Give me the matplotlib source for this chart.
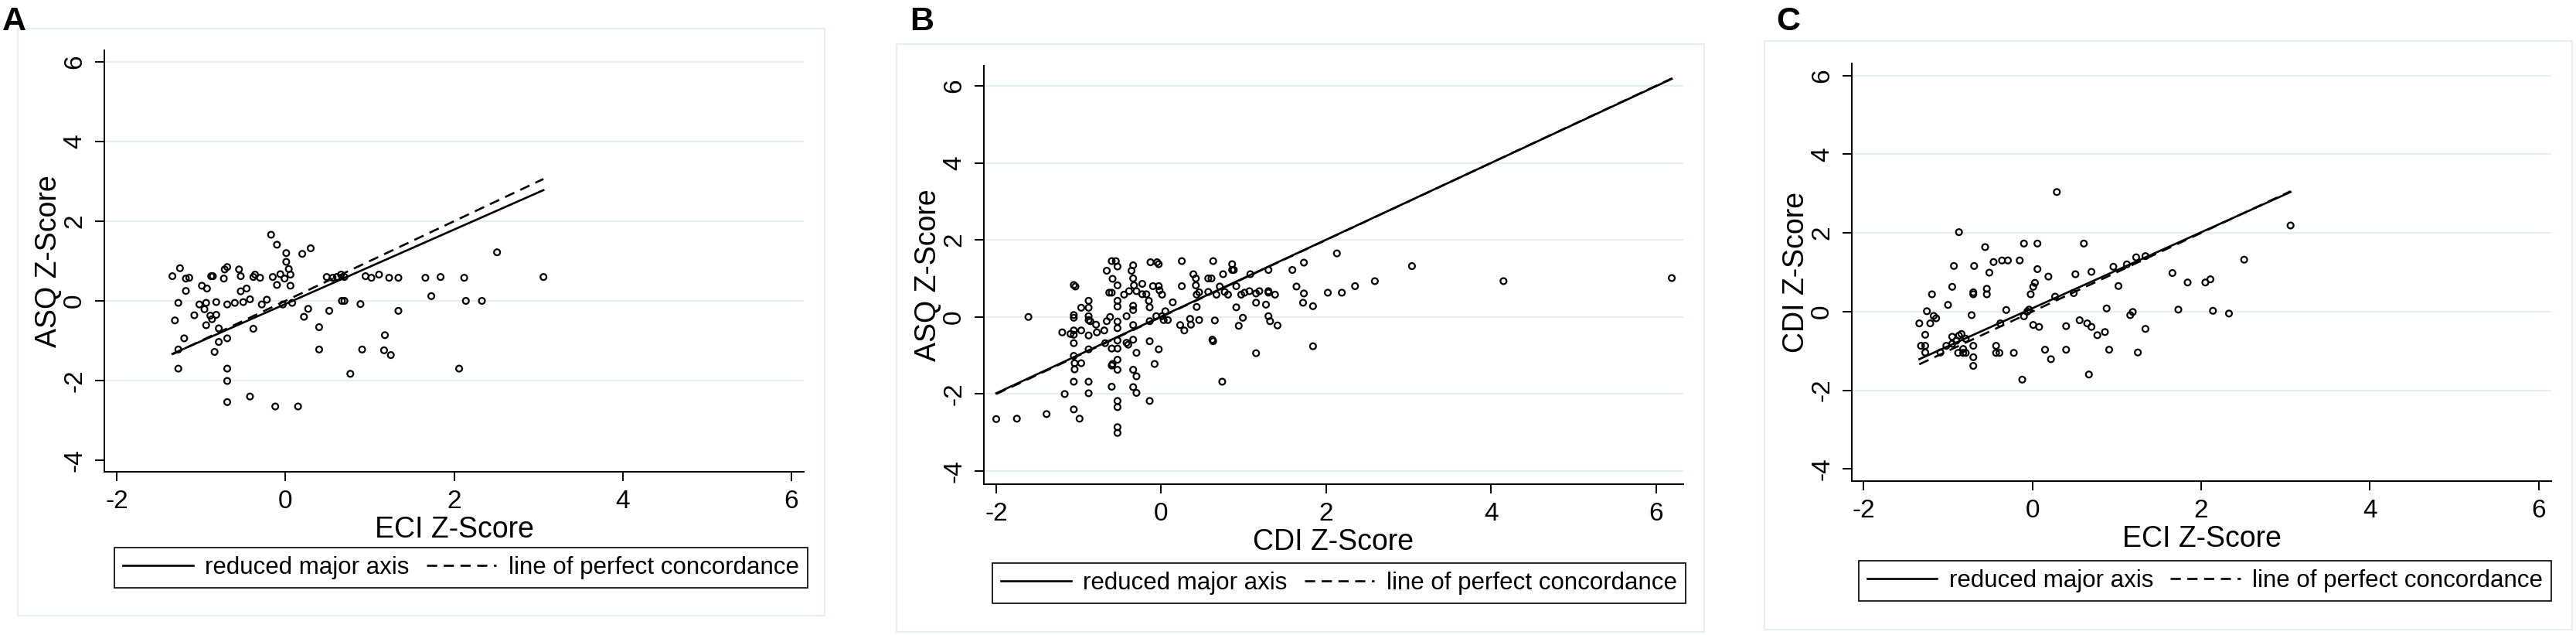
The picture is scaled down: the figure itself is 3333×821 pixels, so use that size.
import matplotlib
matplotlib.use("Agg")
import matplotlib.pyplot as plt
from matplotlib.lines import Line2D
from matplotlib.patches import Rectangle

plt.rcParams['font.family'] = ['Liberation Sans', 'DejaVu Sans']
plt.rcParams['axes.unicode_minus'] = False

# ---- data ----
# panel A: ECI z-score vs ASQ z-score
eci_a = [-1.34, -1.25, -1.18, -1.14, -1.18, -1.27, -1.31, -1.20, -1.27, -1.27,
         -1.08, -1.02, -0.99, -0.93, -0.94, -0.96, -0.94, -0.88, -0.86, -0.89,
         -0.87, -0.82, -0.82, -0.79, -0.79, -0.84, -0.73, -0.72, -0.69, -0.69,
         -0.69, -0.69, -0.69, -0.69, -0.60, -0.55, -0.53, -0.53, -0.50, -0.46,
         -0.42, -0.42, -0.38, -0.36, -0.38, -0.30, -0.28, -0.22, -0.17, -0.15,
         -0.10, -0.10, -0.12, -0.06, -0.03, -0.01, 0.01, 0.01, 0.04, 0.06,
         0.06, 0.08, 0.15, 0.20, 0.30, 0.22, 0.27, 0.40, 0.40, 0.49,
         0.52, 0.56, 0.61, 0.66, 0.70, 0.67, 0.70, 0.77, 0.89, 0.91,
         0.95, 1.02, 1.11, 1.17, 1.18, 1.23, 1.25, 1.34, 1.34, 1.66,
         1.73, 1.84, 2.06, 2.12, 2.14, 2.33, 2.51, 3.06]
asq_a = [0.62, 0.82, 0.56, 0.58, 0.25, -0.05, -0.49, -0.94, -1.22, -1.70,
         -0.36, -0.09, 0.38, 0.31, -0.05, -0.21, -0.61, 0.62, 0.62, -0.37,
         -0.46, -0.35, -0.03, -0.69, -1.03, -1.28, 0.56, 0.79, 0.85, -0.09,
         -0.94, -1.70, -2.01, -2.54, -0.05, 0.79, 0.62, 0.24, -0.03, 0.31,
         0.04, -2.40, 0.60, 0.66, -0.70, 0.58, -0.09, 0.03, 1.66, 0.60,
         1.41, 0.40, -2.65, 0.67, -0.09, 0.56, 1.20, 0.98, 0.80, 0.66,
         0.38, -0.05, -2.65, 1.18, 1.32, -0.40, -0.20, -0.66, -1.22, 0.60,
         -0.25, 0.58, 0.60, 0.66, 0.60, 0.00, 0.00, -1.83, -0.08, -1.22,
         0.62, 0.58, 0.66, -1.24, -0.86, 0.58, -1.36, 0.58, -0.25, 0.58,
         0.12, 0.60, -1.70, 0.58, 0.00, 0.00, 1.22, 0.60]
rma_a_x = [-1.34, 3.06]
rma_a_y = [-1.33, 2.78]
conc_a = [-1.34, 3.06]

# panel B: CDI z-score vs ASQ z-score
cdi_b = [-2.00, -1.75, -1.61, -1.39, -1.20, -1.17, -1.10, -1.06, -1.04, -1.06,
         -1.06, -1.06, -1.06, -1.06, -1.06, -1.05, -1.05, -1.06, -1.06, -0.99,
         -0.97, -0.97, -0.97, -0.88, -0.88, -0.88, -0.88, -0.86, -0.88, -0.88,
         -0.88, -0.88, -0.79, -0.78, -0.69, -0.68, -0.66, -0.63, -0.62, -0.66,
         -0.60, -0.59, -0.60, -0.60, -0.59, -0.60, -0.60, -0.55, -0.53, -0.53,
         -0.53, -0.53, -0.53, -0.53, -0.53, -0.53, -0.53, -0.53, -0.53, -0.53,
         -0.53, -0.53, -0.45, -0.42, -0.42, -0.39, -0.40, -0.36, -0.34, -0.34,
         -0.33, -0.34, -0.34, -0.34, -0.34, -0.34, -0.30, -0.34, -0.30, -0.30,
         -0.30, -0.23, -0.23, -0.18, -0.15, -0.14, -0.14, -0.13, -0.14, -0.14,
         -0.10, -0.08, -0.06, -0.05, -0.03, -0.03, -0.02, -0.03, 0.01, 0.01,
         0.03, 0.05, 0.08, 0.14, 0.23, 0.25, 0.25, 0.28, 0.35, 0.36,
         0.39, 0.42, 0.42, 0.43, 0.43, 0.46, 0.46, 0.57, 0.61, 0.57,
         0.63, 0.65, 0.62, 0.63, 0.67, 0.71, 0.74, 0.75, 0.77, 0.81,
         0.86, 0.86, 0.88, 0.91, 0.91, 0.94, 0.97, 0.99, 1.01, 1.08,
         1.07, 1.15, 1.15, 1.15, 1.19, 1.27, 1.30, 1.30, 1.30, 1.30,
         1.32, 1.38, 1.41, 1.59, 1.64, 1.73, 1.73, 1.72, 1.84, 1.84,
         2.02, 2.13, 2.19, 2.35, 2.59, 3.04, 4.15, 6.19]
asq_b = [-2.65, -2.64, 0.00, -2.52, -0.40, -2.00, -0.44, 0.83, 0.79, 0.05,
         -0.02, -0.35, -0.46, -0.68, -1.01, -1.20, -1.36, -1.68, -2.40, -2.64,
         0.24, -0.35, -1.20, 0.42, 0.24, 0.02, -0.08, -0.11, -0.48, -0.84,
         -1.68, -1.98, -0.20, -0.40, -0.35, -0.68, 1.20, 0.63, 0.00, -0.11,
         1.45, 0.99, 0.63, -0.82, -1.22, -1.81, -1.26, 1.45, 1.31, 0.82,
         0.42, 0.27, -0.12, -0.29, -0.61, -0.82, -1.11, -1.37, -2.18, -2.34,
         -2.86, -3.01, 0.58, 0.02, -0.67, 0.67, -0.72, 1.20, 1.34, 1.00,
         0.82, 0.29, 0.18, -0.21, -0.59, -1.37, -1.54, -1.82, -1.97, 0.67,
         -0.93, 0.86, 0.59, 0.59, 0.42, 0.25, -0.11, 1.42, -0.63, -2.18,
         0.80, -1.22, 0.02, 1.42, 1.37, 0.80, 0.69, -0.84, 0.58, 0.02,
         -0.08, 0.15, -0.08, 0.38, -0.21, 1.45, 0.80, -0.35, -0.05, -0.20,
         1.11, 1.00, 0.82, 0.58, 0.26, 0.64, -0.08, 1.00, 1.00, 0.65,
         1.45, -0.09, -0.59, -0.63, 0.58, 0.79, -1.68, 1.11, 0.65, 0.58,
         1.37, 1.22, 1.22, 0.80, 0.25, -0.23, 0.58, -0.02, 0.63, 1.11,
         0.67, 0.37, -0.94, 0.61, 0.67, 0.32, 0.67, 0.63, 1.22, 0.02,
         -0.11, 0.58, -0.22, 1.22, 0.79, 1.41, 0.61, 0.37, 0.28, -0.76,
         0.63, 1.65, 0.63, 0.80, 0.93, 1.32, 0.93, 1.01]
rma_b_x = [-2.00, 6.19]
rma_b_y = [-1.98, 6.18]
conc_b = [-2.00, 6.19]

# panel C: ECI z-score vs CDI z-score
eci_c = [-1.34, -1.32, -1.27, -1.27, -1.27, -1.25, -1.21, -1.19, -1.17, -1.14,
         -1.09, -1.02, -1.00, -0.95, -0.95, -0.95, -0.93, -0.90, -0.87, -0.87,
         -0.88, -0.84, -0.82, -0.82, -0.79, -0.79, -0.72, -0.70, -0.70, -0.69,
         -0.70, -0.70, -0.70, -0.56, -0.54, -0.54, -0.51, -0.46, -0.43, -0.43,
         -0.39, -0.38, -0.36, -0.29, -0.31, -0.22, -0.15, -0.12, -0.10, -0.10,
         -0.06, -0.04, -0.02, 0.01, 0.01, 0.03, 0.06, 0.06, 0.08, 0.15,
         0.19, 0.22, 0.27, 0.29, 0.40, 0.40, 0.49, 0.51, 0.56, 0.61,
         0.65, 0.67, 0.70, 0.70, 0.77, 0.86, 0.88, 0.91, 0.96, 1.02,
         1.12, 1.16, 1.19, 1.23, 1.25, 1.34, 1.34, 1.66, 1.73, 1.84,
         2.05, 2.11, 2.14, 2.33, 2.51, 3.06]
cdi_c = [-0.30, -0.87, -0.59, -0.87, -1.04, 0.01, -0.30, 0.44, -0.11, -0.17,
         -1.04, -0.87, 0.17, 0.63, -0.64, -0.82, 1.16, -0.74, 2.02, -0.61,
         -1.05, -0.57, -0.95, -1.05, -0.69, -1.05, -0.09, 0.49, 0.44, 1.16,
         -0.87, -1.16, -1.38, 1.64, 0.58, 0.44, 0.99, 1.26, -0.87, -1.05,
         -1.05, -0.30, 1.30, 1.30, 0.04, -1.05, 1.30, -1.73, 1.73, -0.12,
         0.00, 0.05, 0.44, -0.34, 0.63, 0.73, 1.73, 1.08, -0.39, -0.97,
         0.89, -1.21, 0.38, 3.04, -0.37, -0.97, 0.47, 0.95, -0.22, 1.73,
         -0.30, -1.60, -0.39, 1.01, -0.60, -0.52, 0.08, -0.97, 1.14, 0.65,
         1.20, -0.09, -0.01, 1.38, -1.04, 1.41, -0.44, 0.98, 0.05, 0.74,
         0.74, 0.82, 0.02, -0.05, 1.32, 2.19]
rma_c_x = [-1.34, 3.06]
rma_c_y = [-1.21, 3.04]
conc_c = [-1.34, 3.06]

ticks = [-2, 0, 2, 4, 6]
yticks = [-4, -2, 0, 2, 4, 6]

W, H = 3333, 821
fig = plt.figure(figsize=(W / 100, H / 100), dpi=100)

light = '#e6eff0'
dash = (5.0, 3.2)


def px_rect(l, t, r, b):
    return [l / W, 1 - b / H, (r - l) / W, (b - t) / H]


panels = [
    dict(letter='A', lx=3, box=(23, 37, 1067, 796), ax=(135, 65, 1040, 610),
         xlim=(-2.147, 6.147), ylim=(-4.29, 6.29), leg=(143, 707, 1050, 761),
         x=eci_a, y=asq_a, rx=rma_a_x, ry=rma_a_y, cx=conc_a,
         xlabel='ECI Z-Score', ylabel='ASQ Z-Score', grid=[-2, 0, 2, 4, 6]),
    dict(letter='B', lx=1177, box=(1160, 57, 2205, 817), ax=(1273, 85, 2178, 626),
         xlim=(-2.15, 6.33), ylim=(-4.34, 6.52), leg=(1282, 727, 2183, 781),
         x=cdi_b, y=asq_b, rx=rma_b_x, ry=rma_b_y, cx=conc_b,
         xlabel='CDI Z-Score', ylabel='ASQ Z-Score', grid=[-4, -2, 0, 2, 4, 6]),
    dict(letter='C', lx=2298, box=(2283, 53, 3328, 814), ax=(2396, 82, 3301, 622),
         xlim=(-2.14, 6.15), ylim=(-4.31, 6.31), leg=(2404, 724, 3302, 778),
         x=eci_c, y=cdi_c, rx=rma_c_x, ry=rma_c_y, cx=conc_c,
         xlabel='ECI Z-Score', ylabel='CDI Z-Score', grid=[-2, 0, 2, 4, 6]),
]

for p in panels:
    l, t, r, b = p['box']
    fig.patches.append(Rectangle((l / W, 1 - b / H), (r - l) / W, (b - t) / H,
                                 transform=fig.transFigure, fill=False,
                                 edgecolor=light, linewidth=1.5))
    fig.text(p['lx'] / W, 1 - 8 / H, p['letter'], fontsize=31, fontweight='bold',
             ha='left', va='top')

    ax = fig.add_axes(px_rect(*p['ax']))
    for g in p['grid']:
        ax.axhline(g, color=light, linewidth=1.5, zorder=0)
    ax.scatter(p['x'], p['y'], s=32, facecolors='none', edgecolors='black',
               linewidths=1.6, zorder=3)
    ax.plot(p['rx'], p['ry'], color='black', linewidth=1.9, zorder=4)
    ax.plot(p['cx'], p['cx'], color='black', linewidth=1.9, dashes=dash, zorder=4)

    ax.set_xlim(*p['xlim'])
    ax.set_ylim(*p['ylim'])
    ax.set_xticks(ticks)
    ax.set_yticks(yticks)
    ax.spines['top'].set_visible(False)
    ax.spines['right'].set_visible(False)
    ax.spines['left'].set_linewidth(1.4)
    ax.spines['bottom'].set_linewidth(1.4)
    ax.tick_params(length=8.5, width=1.4, pad=8, labelsize=24)
    ax.tick_params(axis='y', labelrotation=90)
    for lab in ax.get_yticklabels():
        lab.set_va('center')
    ax.set_xlabel(p['xlabel'], fontsize=27, labelpad=2)
    ax.set_ylabel(p['ylabel'], fontsize=27, labelpad=0)

    ll, lt, lr, lb = p['leg']
    handles = [Line2D([], [], color='black', linewidth=1.9),
               Line2D([], [], color='black', linewidth=1.9, dashes=dash)]
    leg = ax.legend(handles, ['reduced major axis', 'line of perfect concordance'],
                    ncol=2, loc='center',
                    bbox_to_anchor=((ll + lr) / 2 / W, 1 - (lt + lb) / 2 / H),
                    bbox_transform=fig.transFigure, fontsize=22.5,
                    frameon=True, fancybox=False, framealpha=1, edgecolor='black',
                    handlelength=2.9, handletextpad=0.5, columnspacing=0.7,
                    borderpad=0.35)
    leg.get_frame().set_linewidth(1.2)

fig.savefig('out.png', dpi=100, facecolor='white')
